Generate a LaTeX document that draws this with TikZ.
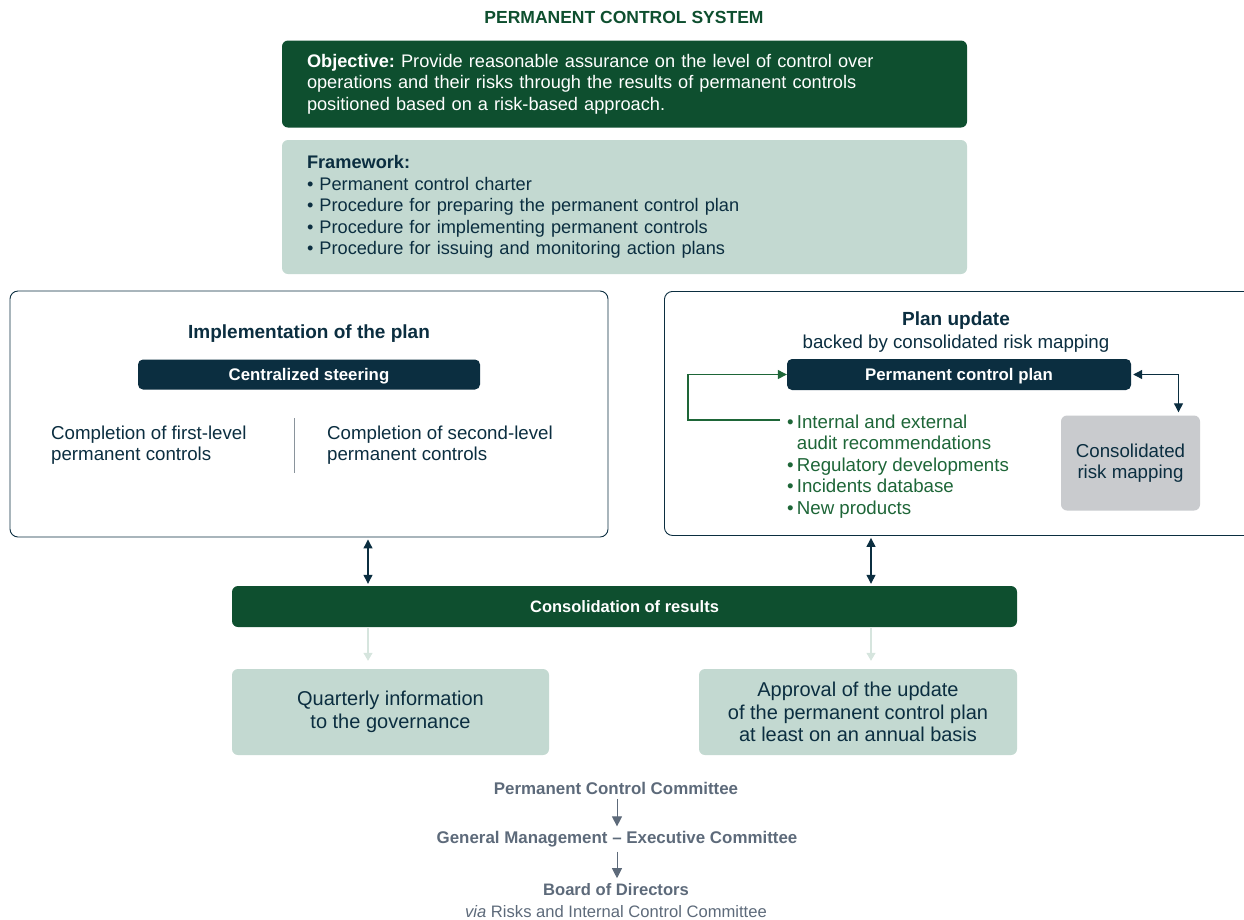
\documentclass[tikz,border=0pt]{standalone}
\usepackage{fontspec}
\setmainfont{Liberation Sans}
\usetikzlibrary{arrows.meta}
\definecolor{pcgreen}{HTML}{0E4F2F}
\definecolor{pcnavy}{HTML}{0B2E40}
\definecolor{pcsage}{HTML}{C3D9D1}
\definecolor{pcleaf}{HTML}{1E6638}
\definecolor{pcslate}{HTML}{5D6A7A}
\definecolor{pcrisk}{HTML}{C9CBCE}
\definecolor{pcpale}{HTML}{D6E5DE}
\definecolor{pcrule}{HTML}{8A949C}
\frenchspacing
\begin{document}
\begin{tikzpicture}[x=1pt, y=-1pt,
	body/.style={font=\fontsize{18.7}{21.4}\selectfont, inner sep=0pt},
	top/.style={font=\fontsize{18.2}{21.4}\selectfont, inner sep=0pt},
	large/.style={font=\fontsize{20}{22.4}\selectfont, inner sep=0pt},
	heading/.style={font=\bfseries\fontsize{19}{22}\selectfont, text=pcnavy, inner sep=0pt},
	greenbox/.style={rectangle, rounded corners=6pt, fill=pcgreen, text=white, inner sep=0pt},
	sagebox/.style={rectangle, rounded corners=6pt, fill=pcsage, text=pcnavy, inner sep=0pt},
	navybar/.style={rectangle, rounded corners=5pt, fill=pcnavy, text=white, inner sep=0pt, text height=14pt, text depth=2pt, font=\bfseries\fontsize{16.8}{19}\selectfont},
	frame/.style={rectangle, draw=pcnavy, line width=0.9pt, rounded corners=8pt, fill=white, inner sep=0pt},
	govern/.style={font=\bfseries\fontsize{16.9}{19}\selectfont, text=pcslate, inner sep=0pt},
	dbl/.style={{Triangle[length=9pt,width=9pt]}-{Triangle[length=9pt,width=9pt]}, draw=pcnavy, line width=1.2pt},
	pale/.style={-{Triangle[length=8pt,width=9pt]}, draw=pcpale, line width=1.2pt},
	chain/.style={-{Triangle[length=10pt,width=10pt]}, draw=pcslate, line width=1pt}]
	\useasboundingbox (0,0) rectangle (1244,919);
	\clip (0,0) rectangle (1244,919);
	
	% Title and objective
	\node[font=\bfseries\fontsize{17.5}{20}\selectfont, text=pcgreen, inner sep=0pt] (title) at (624,17) {PERMANENT CONTROL SYSTEM};
	\node[greenbox, top, minimum width=685pt, minimum height=87pt, text width=635pt, align=left] (objective) at (624.5,84)
		{\textbf{Objective:} Provide reasonable assurance on the level of control over\\
		operations and their risks through the results of permanent controls\\
		positioned based on a risk-based approach.};
	
	% Framework
	\node[sagebox, top, minimum width=685pt, minimum height=134pt, text width=635pt, align=left] (framework) at (624.5,207)
		{\textbf{Framework:}\\
		\textbullet\ Permanent control charter\\
		\textbullet\ Procedure for preparing the permanent control plan\\
		\textbullet\ Procedure for implementing permanent controls\\
		\textbullet\ Procedure for issuing and monitoring action plans};
	
	% Implementation of the plan
	\node[frame, minimum width=598pt, minimum height=246pt] (implbox) at (309,414) {};
	\node[heading] (impltitle) at (309,334) {Implementation of the plan};
	\node[navybar, minimum width=342pt, minimum height=30pt] (steering) at (309,374.5) {Centralized steering};
	\node[body, text=pcnavy, align=left, anchor=west] (firstlvl) at (51,445) {Completion of first-level\\permanent controls};
	\node[body, text=pcnavy, align=left, anchor=west] (secondlvl) at (327,445) {Completion of second-level\\permanent controls};
	\draw[pcrule, line width=0.8pt] (294,418) -- (294,473);
	
	% Plan update
	\node[frame, minimum width=600pt, minimum height=244pt, anchor=north west] (updatebox) at (664,291) {};
	\node[heading] (updtitle) at (956,320.5) {Plan update};
	\node[body, text=pcnavy] (updsub) at (956,344) {backed by consolidated risk mapping};
	\node[navybar, minimum width=344pt, minimum height=31pt] (pcp) at (959,374.5) {Permanent control plan};
	\node[body, text=pcleaf, align=left, anchor=west] (sources) at (787,466.5)
		{\textbullet\,Internal and external\\
		\phantom{\textbullet\,}audit recommendations\\
		\textbullet\,Regulatory developments\\
		\textbullet\,Incidents database\\
		\textbullet\,New products};
	\node[rectangle, rounded corners=6pt, fill=pcrisk, text=pcnavy, body, align=center, minimum width=139pt, minimum height=95pt] (riskmap) at (1130.5,463) {Consolidated\\risk mapping};
	\coordinate (fbstart) at (780,420);
	\draw[pcleaf, line width=1.2pt, -{Triangle[length=9pt,width=9pt]}] (fbstart) -- (688,420) |- (pcp.west);
	\draw[dbl, shorten <=2pt, shorten >=3pt] (pcp.east) -| ([xshift=48pt]riskmap.north);
	
	% Consolidation of results
	\node[greenbox, minimum width=785pt, minimum height=41pt, text height=14pt, text depth=2pt, font=\bfseries\fontsize{16.5}{19}\selectfont] (consol) at (624.5,606.5) {Consolidation of results};
	\coordinate (lcol) at (368,0);
	\coordinate (rcol) at (871,0);
	\draw[dbl, shorten <=2pt, shorten >=2pt] (implbox.south -| lcol) -- (consol.north -| lcol);
	\draw[dbl, shorten <=2pt, shorten >=2pt] (updatebox.south -| rcol) -- (consol.north -| rcol);
	
	% Reporting
	\node[sagebox, large, align=center, minimum width=317pt, minimum height=86pt] (quarterly) at (390.5,712) {Quarterly information\\to the governance};
	\node[sagebox, large, align=center, minimum width=318pt, minimum height=86pt] (approval) at (858,712) {Approval of the update\\of the permanent control plan\\at least on an annual basis};
	\draw[pale, shorten <=1pt, shorten >=8pt] (consol.south -| lcol) -- (quarterly.north -| lcol);
	\draw[pale, shorten <=1pt, shorten >=8pt] (consol.south -| rcol) -- (approval.north -| rcol);
	
	% Governance chain
	\node[govern] (pcc) at (616,788.5) {Permanent Control Committee};
	\node[govern] (genmgmt) at (617,839.5) {General Management -- Executive Committee};
	\node[font=\fontsize{16.6}{22}\selectfont, text=pcslate, inner sep=0pt, align=center] (board) at (616,900.5) {\textbf{Board of Directors}\\\textit{via} Risks and Internal Control Committee};
	\draw[chain, shorten <=4pt, shorten >=5pt] (pcc.south -| 617,0) -- (genmgmt.north -| 617,0);
	\draw[chain, shorten <=4pt, shorten >=5pt] (genmgmt.south -| 617,0) -- (board.north -| 617,0);
\end{tikzpicture}
\end{document}
